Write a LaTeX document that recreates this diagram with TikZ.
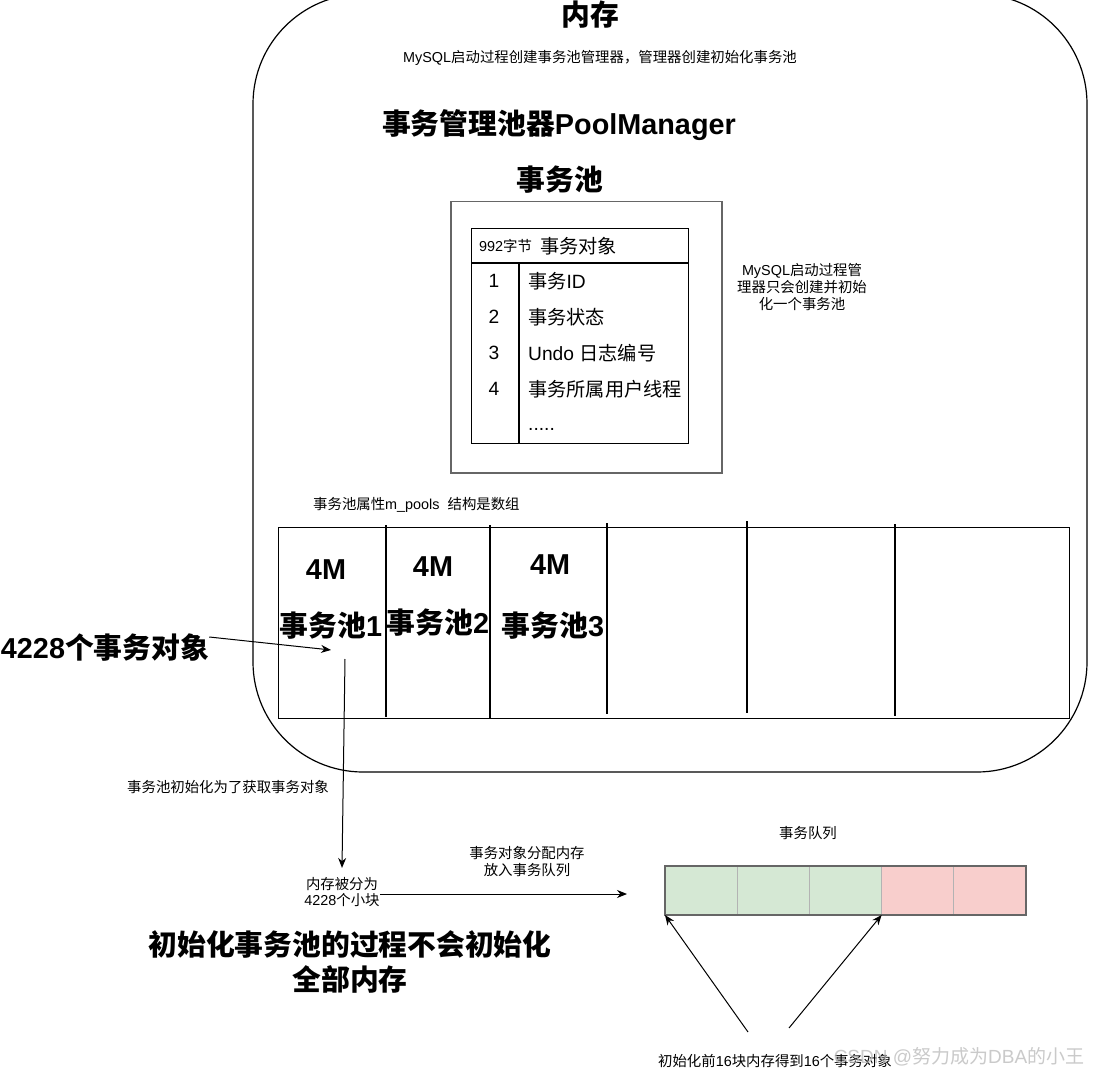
\documentclass[tikz,border=0pt]{standalone}
\usepackage{fontspec}
\setmainfont{Liberation Sans}
\newfontfamily\cjkf{Noto Sans CJK SC}
\usetikzlibrary{arrows.meta}
\newcommand{\zh}[1]{{\cjkf #1}}
\definecolor{bord}{HTML}{666666}
\definecolor{qgreen}{HTML}{D5E8D4}
\definecolor{qred}{HTML}{F8CECC}
\definecolor{qline}{HTML}{B3B3B3}
\definecolor{wm}{HTML}{BDBDBD}
\begin{document}
\begin{tikzpicture}[x=1pt,y=-1pt,
  t/.style={inner sep=0pt, font=\fontsize{14.4}{17}\selectfont, align=center},
  big/.style={inner sep=0pt, font=\bfseries\fontsize{28.8}{35}\selectfont, align=center},
  mid/.style={inner sep=0pt, font=\fontsize{19.2}{23}\selectfont},
  arr/.style={-{Stealth[length=10pt,width=8pt]}, line width=1pt},
  qcell/.style={inner sep=0pt, outer sep=0pt, minimum width=72.2pt, minimum height=49pt, anchor=north west}]
\useasboundingbox (0,0) rectangle (1093,1075);
\fill[white] (0,0) rectangle (1093,1075);

% memory container
\draw[line width=1.2pt, rounded corners=110pt] (253,-6) rectangle (1087,772);
\node[big] (title) at (590,15) {\zh{内存}};
\node[t] (sub1) at (600,58) {MySQL\zh{启动过程创建事务池管理器，管理器创建初始化事务池}};
\node[big] (mgr) at (559,125) {\zh{事务管理池器}PoolManager};
\node[big] (pooltitle) at (560,180) {\zh{事务池}};

% transaction object box
\node[draw=bord, line width=1.5pt, minimum width=271pt, minimum height=271pt, inner sep=0pt, anchor=north west] (poolbox) at (450,201) {};
\node[draw, line width=1.3pt, minimum width=217pt, minimum height=215pt, inner sep=0pt, anchor=north west] (tbl) at (471,228) {};
\draw[line width=1.3pt] (471,263) -- (688,263) (519,263) -- (519,443);
\node[t, anchor=west] (hdr1) at (479,246) {992\zh{字节}};
\node[mid, anchor=west] (hdr2) at (540,246) {\zh{事务对象}};
\node[mid] (n1) at (494,281) {1};
\node[mid] (n2) at (494,317) {2};
\node[mid] (n3) at (494,353) {3};
\node[mid] (n4) at (494,389) {4};
\node[mid, anchor=west] (r1) at (528,281) {\zh{事务}ID};
\node[mid, anchor=west] (r2) at (528,317) {\zh{事务状态}};
\node[mid, anchor=west] (r3) at (528,353) {Undo \zh{日志编号}};
\node[mid, anchor=west] (r4) at (528,389) {\zh{事务所属用户线程}};
\node[mid, anchor=west] (r5) at (528,429) {.....};

\node[t] (note) at (802,287) {MySQL\zh{启动过程管}\\\zh{理器只会创建并初始}\\\zh{化一个事务池}};

% pools array
\node[t, anchor=west] (mpools) at (313,505) {\zh{事务池属性}m\_pools\ \ \zh{结构是数组}};
\node[draw, line width=1.2pt, minimum width=791pt, minimum height=191pt, inner sep=0pt, anchor=north west] (pools) at (278,527) {};
\draw[line width=2pt] (386,525) -- (386,717) (490,525) -- (490,718) (607,523) -- (607,714)
  (747,521) -- (747,713) (895,524) -- (895,716);
\node[big] (m1) at (326,570) {4M};
\node[big] (m2) at (433,567) {4M};
\node[big] (m3) at (550,565) {4M};
\node[big] (p1) at (331,626) {\zh{事务池}1};
\node[big] (p2) at (438,623) {\zh{事务池}2};
\node[big] (p3) at (553,626) {\zh{事务池}3};

% left label and arrows
\node[big] (objs) at (105,648) {4228\zh{个事务对象}};
\coordinate (a1e) at (331,650);
\draw[arr] ([yshift=11pt]objs.east) -- (a1e);

\node[t] (initlbl) at (228,787) {\zh{事务池初始化为了获取事务对象}};
\node[t, font=\fontsize{14.4}{16.5}\selectfont] (mem) at (342,892) {\zh{内存被分为}\\4228\zh{个小块}};
\coordinate (b1s) at (345,659);
\draw[arr] (b1s) -- ([yshift=9pt]mem.north);

\node[t] (alloc) at (527,862) {\zh{事务对象分配内存}\\\zh{放入事务队列}};
\coordinate (c1e) at (627,894);
\draw[arr] ([yshift=-2pt]mem.east) -- (c1e);

% queue
\node[t] (qlbl) at (808,833) {\zh{事务队列}};
\node[qcell, fill=qgreen] (q0) at (665,866) {};
\node[qcell, fill=qgreen] (q1) at (737.2,866) {};
\node[qcell, fill=qgreen] (q2) at (809.4,866) {};
\node[qcell, fill=qred] (q3) at (881.6,866) {};
\node[qcell, fill=qred] (q4) at (953.8,866) {};
\draw[qline, line width=1pt] (q1.north west) -- (q1.south west) (q2.north west) -- (q2.south west)
  (q3.north west) -- (q3.south west) (q4.north west) -- (q4.south west);
\draw[bord, line width=1.3pt] (q0.north west) rectangle (q4.south east);

\node[big] (bottom) at (350,962) {\zh{初始化事务池的过程不会初始化}\\\zh{全部内存}};

\coordinate (d1s) at (748,1032);
\coordinate (d2s) at (789,1028);
\draw[arr] (d1s) -- (q0.south west);
\draw[arr] (d2s) -- (q2.south east);
\node[t] (caption) at (775,1061) {\zh{初始化前}16\zh{块内存得到}16\zh{个事务对象}};
\node[inner sep=0pt, font=\fontsize{19}{22}\selectfont, text=wm, text opacity=0.8] (wmark) at (959,1057) {CSDN @\zh{努力成为}DBA\zh{的小王}};
\end{tikzpicture}
\end{document}
